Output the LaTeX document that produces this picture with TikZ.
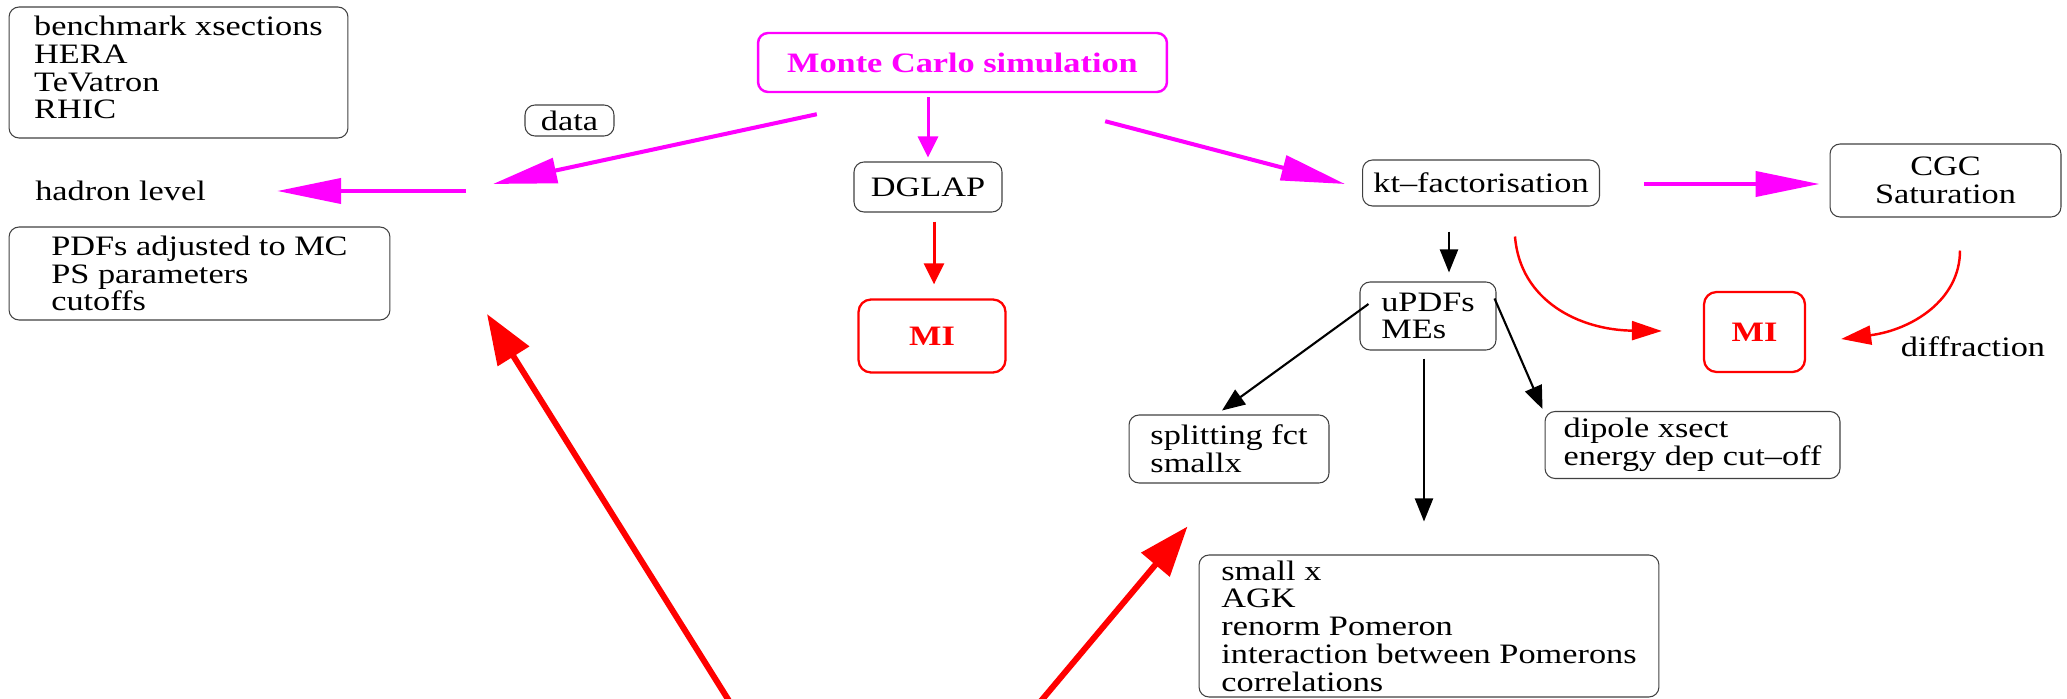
\documentclass[tikz,border=0pt]{standalone}
\usepackage{fontspec}
\setmainfont{Liberation Serif}[FakeStretch=1.22]
\usetikzlibrary{arrows.meta,calc}

\definecolor{mcpink}{RGB}{255,0,255}
\definecolor{mired}{RGB}{255,0,0}

\tikzset{
  box/.style={draw=black!75, line width=0.6pt, rounded corners=0.2cm, align=left, inner sep=0.05cm},
  mibox/.style={draw=mired, line width=1.3pt, rounded corners=0.25cm, text=mired, font=\fontsize{16}{15.8}\selectfont\bfseries},
  magarrow/.style={draw=mcpink, line width=2.3pt, -{Triangle[length=1.28cm,width=0.5cm]}},
  magsmall/.style={draw=mcpink, line width=1.7pt, -{Triangle[length=0.42cm,width=0.4cm]}},
  redsmall/.style={draw=mired, line width=1.7pt, -{Triangle[length=0.42cm,width=0.4cm]}},
  redcurve/.style={draw=mired, line width=1.4pt, -{Triangle[length=0.6cm,width=0.38cm]}},
  redbig/.style={draw=mired, line width=3.4pt, -{Triangle[length=1.0cm,width=0.72cm]}},
  blkarrow/.style={draw=black, line width=1.2pt, -{Triangle[length=0.46cm,width=0.36cm]}}
}

\begin{document}
\begin{tikzpicture}[x=0.02cm, y=-0.02cm, font=\fontsize{16}{15.8}\selectfont]
  \useasboundingbox (0,0) rectangle (2067,699);

  \node[box, minimum width=6.78cm, minimum height=2.62cm] (bench) at (178.5,72.5)
    {benchmark xsections\\HERA\\TeVatron\\RHIC\rule[-0.2cm]{0pt}{0pt}};
  \node[box, minimum width=1.78cm, minimum height=0.62cm] (data) at (569.5,120.5) {data};
  \node[anchor=west, inner sep=0pt] (hadron) at (35,191) {hadron level};
  \node[box, minimum width=7.62cm, minimum height=1.86cm] (pdfs) at (199.5,273.5)
    {PDFs adjusted to MC\\PS parameters\\cutoffs};

  \node[box, draw=mcpink, line width=1.4pt, text=mcpink, font=\fontsize{16}{15.8}\selectfont\bfseries,
    minimum width=8.18cm, minimum height=1.18cm] (mc) at (962.5,62.5) {Monte Carlo simulation};
  \node[box, minimum width=2.96cm, minimum height=1.0cm] (dglap) at (928,187) {DGLAP};
  \node[mibox, minimum width=2.94cm, minimum height=1.46cm] (mi1) at (932,336) {MI};

  \node[box, minimum width=4.74cm, minimum height=0.92cm] (kt) at (1481,183) {kt--factorisation};
  \node[box, align=center, minimum width=4.62cm, minimum height=1.46cm] (cgc) at (1945.5,180.5) {CGC\\Saturation};
  \node[box, minimum width=2.72cm, minimum height=1.36cm] (updfs) at (1428,316) {uPDFs\\MEs};
  \node[mibox, minimum width=2.02cm, minimum height=1.6cm] (mi2) at (1754.5,332) {MI};
  \node (diffr) at (1973,347) {diffraction};
  \node[box, minimum width=4.0cm, minimum height=1.36cm] (split) at (1229,449) {splitting fct\\smallx};
  \node[box, minimum width=5.9cm, minimum height=1.34cm] (dipole) at (1692.5,445) {dipole xsect\\energy dep cut--off};
  \node[box, minimum width=9.2cm, minimum height=2.84cm] (big) at (1429,626)
    {small x\\AGK\\renorm Pomeron\\interaction between Pomerons\\correlations};

  \coordinate (hadin) at (493,184);
  \coordinate (hadout) at (466,191);
  \coordinate (srcl) at (741,720);
  \coordinate (tipl) at (487,314);
  \coordinate (srcr) at (1025,720);

  \draw[magarrow] ($(mc.south west)+(60,21)$) -- (hadin);
  \draw[magarrow] (hadout) -- ($(hadron.east)+(71,0)$);
  \draw[magsmall, shorten <=0.08cm, shorten >=0.08cm] (dglap.north |- mc.south) -- (dglap.north);
  \draw[magarrow] ($(mc.south east)+(-63,28)$) -- ($(kt.west)+(-17,1)$);
  \draw[magarrow] ($(kt.east)+(44,1)$) -- ($(kt.east -| cgc.west)+(-10,1)$);

  \draw[redsmall, shorten <=0.18cm, shorten >=0.28cm] ($(dglap.south)+(6,0)$) -- ($(dglap.south |- mi1.north)+(6,0)$);
  \draw[redcurve] ($(kt.south)+(34,30)$) .. controls +(5,64) and +(-83,-1) .. ($(mi2.west)+(-41,-1)$);
  \draw[redcurve] ($(cgc.south)+(14.5,33)$) .. controls +(0,50) and +(70,-9) .. ($(mi2.east)+(35,7)$);

  \draw[blkarrow] ($(kt.south)+(-32,25)$) -- ($(updfs.north)+(21,-9)$);
  \draw[blkarrow] ($(updfs.west)+(9,-12)$) -- ($(split.north)+(-7,-4)$);
  \draw[blkarrow] ($(updfs.south)+(-4,8)$) -- ($(big.north)+(-5,-33)$);
  \draw[blkarrow] ($(updfs.north east)+(-2,17)$) -- ($(dipole.north west)+(-2,-2)$);

  \draw[redbig] (srcl) -- (tipl);
  \draw[redbig] (srcr) -- ($(big.north west)+(-11,-28)$);
\end{tikzpicture}
\end{document}
